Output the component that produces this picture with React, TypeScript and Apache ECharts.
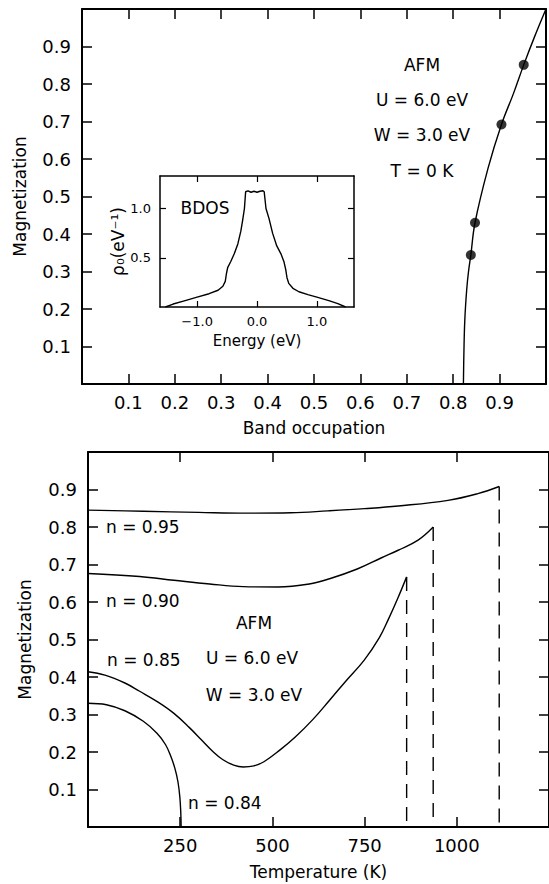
import React, { useEffect, useRef } from "react";
import * as echarts from "echarts";

// ---- top panel: magnetization vs band occupation (T = 0 K)
const occN = [0.822, 0.823, 0.825, 0.829, 0.833, 0.838, 0.847, 0.875, 0.904, 0.93, 0.952, 0.975, 1.0];
const occM = [0.0, 0.08, 0.17, 0.25, 0.3, 0.344, 0.43, 0.575, 0.692, 0.775, 0.851, 0.925, 1.0];
const dotN = [0.838, 0.847, 0.904, 0.952];
const dotM = [0.344, 0.43, 0.692, 0.851];
const occTicks = [0.1, 0.2, 0.3, 0.4, 0.5, 0.6, 0.7, 0.8, 0.9];

// ---- inset: bare density of states
const energy = [-1.53, -1.4, -1.2, -1.0, -0.8, -0.65, -0.57, -0.53, -0.51, -0.49, -0.44, -0.38, -0.32, -0.27, -0.24, -0.21, -0.19, -0.15, -0.1, -0.05, 0.0, 0.05, 0.1, 0.12, 0.15, 0.2, 0.26, 0.33, 0.4, 0.45, 0.48, 0.5, 0.53, 0.6, 0.7, 0.85, 1.0, 1.2, 1.35, 1.48];
const bdos = [0.0, 0.03, 0.065, 0.1, 0.135, 0.17, 0.21, 0.26, 0.34, 0.4, 0.46, 0.54, 0.64, 0.77, 0.88, 1.0, 1.17, 1.18, 1.165, 1.175, 1.165, 1.175, 1.18, 1.17, 1.0, 0.9, 0.75, 0.62, 0.54, 0.46, 0.38, 0.3, 0.24, 0.19, 0.155, 0.125, 0.1, 0.065, 0.035, 0.0];
const energyTicks = [-1, 0, 1];
const bdosTicks = [0.5, 1.0];

// ---- bottom panel: magnetization vs temperature
const t95 = [0, 150, 300, 430, 550, 650, 750, 841, 976, 1057, 1115];
const m95 = [0.845, 0.842, 0.839, 0.837, 0.838, 0.843, 0.849, 0.856, 0.871, 0.889, 0.908];
const t90 = [0, 140, 233, 330, 421, 515, 600, 655, 730, 796, 841, 895, 936];
const m90 = [0.676, 0.668, 0.658, 0.648, 0.641, 0.64, 0.648, 0.662, 0.688, 0.718, 0.738, 0.765, 0.8];
const t85 = [0, 46, 100, 140, 190, 233, 275, 308, 340, 365, 395, 421, 450, 477, 520, 562, 610, 655, 700, 749, 790, 815, 840, 864];
const m85 = [0.414, 0.405, 0.384, 0.362, 0.333, 0.303, 0.265, 0.232, 0.2, 0.18, 0.165, 0.16, 0.163, 0.174, 0.205, 0.24, 0.287, 0.338, 0.39, 0.445, 0.505, 0.555, 0.61, 0.667];
const t84 = [0, 50, 100, 150, 187, 210, 224, 236, 244, 249, 251.5, 252.5];
const m84 = [0.33, 0.326, 0.31, 0.282, 0.25, 0.22, 0.19, 0.155, 0.12, 0.08, 0.04, 0.0];
const tempTicks = [250, 500, 750, 1000];

const FONT = "DejaVu Sans";
const BLACK = "#000";

const zip = (a: number[], b: number[]) => a.map((v, i) => [v, b[i]]);

function valueAxis(extra: any) {
  return {
    type: "value",
    splitLine: { show: false },
    axisLine: { show: true, onZero: false, lineStyle: { color: BLACK, width: 2 } },
    axisTick: { show: true, inside: true, length: 10, lineStyle: { color: BLACK, width: 1.5 } },
    axisLabel: { show: false },
    ...extra,
  };
}

function label(fontSize: number, margin: number, formatter: any, extra: any = {}) {
  return {
    show: true,
    color: BLACK,
    fontFamily: FONT,
    fontSize,
    margin,
    formatter,
    ...extra,
  };
}

function curve(x: number[], y: number[], xi: number, yi: number, smooth: number | boolean = 0.4) {
  return {
    type: "line",
    xAxisIndex: xi,
    yAxisIndex: yi,
    data: zip(x, y),
    smooth,
    showSymbol: false,
    silent: true,
    lineStyle: { color: BLACK, width: 1.4 },
  };
}

function dropLine(x: number[], y: number[]) {
  const tx = x[x.length - 1];
  const ty = y[y.length - 1];
  return {
    type: "line",
    xAxisIndex: 4,
    yAxisIndex: 4,
    data: [
      [tx, ty],
      [tx, 0],
    ],
    showSymbol: false,
    silent: true,
    lineStyle: { color: BLACK, width: 1.4, type: [14, 9] },
  };
}

function txt(text: string, x: number, y: number, align: string, size = 17) {
  return {
    type: "text",
    x,
    y,
    silent: true,
    style: {
      text,
      fill: BLACK,
      fontFamily: FONT,
      fontSize: size,
      align,
      verticalAlign: "middle",
      textAlign: align,
      textVerticalAlign: "middle",
    },
  };
}

const fmt1 = (v: number) => v.toFixed(1);
const fmtE = (v: number) => (v < 0 ? "\u2212" : "") + Math.abs(v).toFixed(1);

const option: any = {
  animation: false,
  backgroundColor: "#fff",
  grid: [
    { left: 82, top: 9, width: 464, height: 375 },
    { left: 160, top: 176, width: 194, height: 131 },
    { left: 88, top: 452, width: 463, height: 375 },
  ],
  xAxis: [
    valueAxis({
      gridIndex: 0,
      position: "bottom",
      min: 0,
      max: 1,
      interval: 0.1,
      axisLabel: label(18, 9, fmt1, { customValues: occTicks }),
      name: "Band occupation",
      nameLocation: "middle",
      nameGap: 35,
      nameTextStyle: { color: BLACK, fontFamily: FONT, fontSize: 17 },
    }),
    valueAxis({ gridIndex: 0, position: "top", min: 0, max: 1, interval: 0.1 }),
    valueAxis({
      gridIndex: 1,
      position: "bottom",
      min: -1.62,
      max: 1.62,
      axisLine: { show: true, onZero: false, lineStyle: { color: BLACK, width: 1.5 } },
      axisTick: { show: true, inside: true, length: 6, customValues: energyTicks, lineStyle: { color: BLACK, width: 1.2 } },
      axisLabel: label(13, 8, fmtE, { customValues: energyTicks }),
      name: "Energy (eV)",
      nameLocation: "middle",
      nameGap: 26,
      nameTextStyle: { color: BLACK, fontFamily: FONT, fontSize: 15 },
    }),
    valueAxis({
      gridIndex: 1,
      position: "top",
      min: -1.62,
      max: 1.62,
      axisLine: { show: true, onZero: false, lineStyle: { color: BLACK, width: 1.5 } },
      axisTick: { show: true, inside: true, length: 6, customValues: energyTicks, lineStyle: { color: BLACK, width: 1.2 } },
    }),
    valueAxis({
      gridIndex: 2,
      position: "bottom",
      min: 0,
      max: 1250,
      interval: 250,
      axisLabel: label(18, 9, (v: number) => String(v), { customValues: tempTicks }),
      name: "Temperature (K)",
      nameLocation: "middle",
      nameGap: 36,
      nameTextStyle: { color: BLACK, fontFamily: FONT, fontSize: 17 },
    }),
    valueAxis({ gridIndex: 2, position: "top", min: 0, max: 1250, interval: 250 }),
  ],
  yAxis: [
    valueAxis({
      gridIndex: 0,
      position: "left",
      min: 0,
      max: 1,
      interval: 0.1,
      axisLabel: label(18, 11, fmt1, { customValues: occTicks }),
      name: "Magnetization",
      nameLocation: "middle",
      nameGap: 54,
      nameTextStyle: { color: BLACK, fontFamily: FONT, fontSize: 17 },
    }),
    valueAxis({ gridIndex: 0, position: "right", min: 0, max: 1, interval: 0.1 }),
    valueAxis({
      gridIndex: 1,
      position: "left",
      min: 0,
      max: 1.33,
      axisLine: { show: true, onZero: false, lineStyle: { color: BLACK, width: 1.5 } },
      axisTick: { show: true, inside: true, length: 6, customValues: bdosTicks, lineStyle: { color: BLACK, width: 1.2 } },
      axisLabel: label(13, 9, fmt1, { customValues: bdosTicks }),
      name: "\u03c1\u2080(eV\u207b\u00b9)",
      nameLocation: "middle",
      nameGap: 33,
      nameTextStyle: { color: BLACK, fontFamily: FONT, fontSize: 17 },
    }),
    valueAxis({
      gridIndex: 1,
      position: "right",
      min: 0,
      max: 1.33,
      axisLine: { show: true, onZero: false, lineStyle: { color: BLACK, width: 1.5 } },
      axisTick: { show: true, inside: true, length: 6, customValues: bdosTicks, lineStyle: { color: BLACK, width: 1.2 } },
    }),
    valueAxis({
      gridIndex: 2,
      position: "left",
      min: 0,
      max: 1,
      interval: 0.1,
      axisLabel: label(18, 11, fmt1, { customValues: occTicks }),
      name: "Magnetization",
      nameLocation: "middle",
      nameGap: 55,
      nameTextStyle: { color: BLACK, fontFamily: FONT, fontSize: 17 },
    }),
    valueAxis({ gridIndex: 2, position: "right", min: 0, max: 1, interval: 0.1 }),
  ],
  series: [
    curve(occN, occM, 0, 0, 0.4),
    {
      type: "scatter",
      xAxisIndex: 0,
      yAxisIndex: 0,
      data: zip(dotN, dotM),
      symbol: "circle",
      symbolSize: 10,
      silent: true,
      itemStyle: { color: BLACK },
    },
    curve(energy, bdos, 2, 2, false),
    curve(t95, m95, 4, 4),
    curve(t90, m90, 4, 4),
    curve(t85, m85, 4, 4),
    curve(t84, m84, 4, 4),
    dropLine(t95, m95),
    dropLine(t90, m90),
    dropLine(t85, m85),
  ],
  graphic: [
    txt("AFM", 422, 65, "center"),
    txt("U = 6.0 eV", 422, 100, "center"),
    txt("W = 3.0 eV", 422, 135, "center"),
    txt("T = 0 K", 422, 171, "center"),
    txt("BDOS", 205, 208, "center"),
    txt("n = 0.95", 106, 527, "left"),
    txt("n = 0.90", 106, 601, "left"),
    txt("n = 0.85", 107, 660, "left"),
    txt("n = 0.84", 188, 803, "left"),
    txt("AFM", 254, 623, "center"),
    txt("U = 6.0 eV", 252, 658, "center"),
    txt("W = 3.0 eV", 254, 695, "center"),
  ],
};

export default function App() {
  const ref = useRef<HTMLDivElement>(null);
  useEffect(() => {
    const chart = echarts.init(ref.current!, null, { renderer: "svg" });
    chart.setOption(option);
    return () => chart.dispose();
  }, []);
  return (
    <div
      ref={ref}
      style={{ position: "fixed", left: 0, top: 0, width: 549, height: 884, background: "#fff" }}
    />
  );
}
